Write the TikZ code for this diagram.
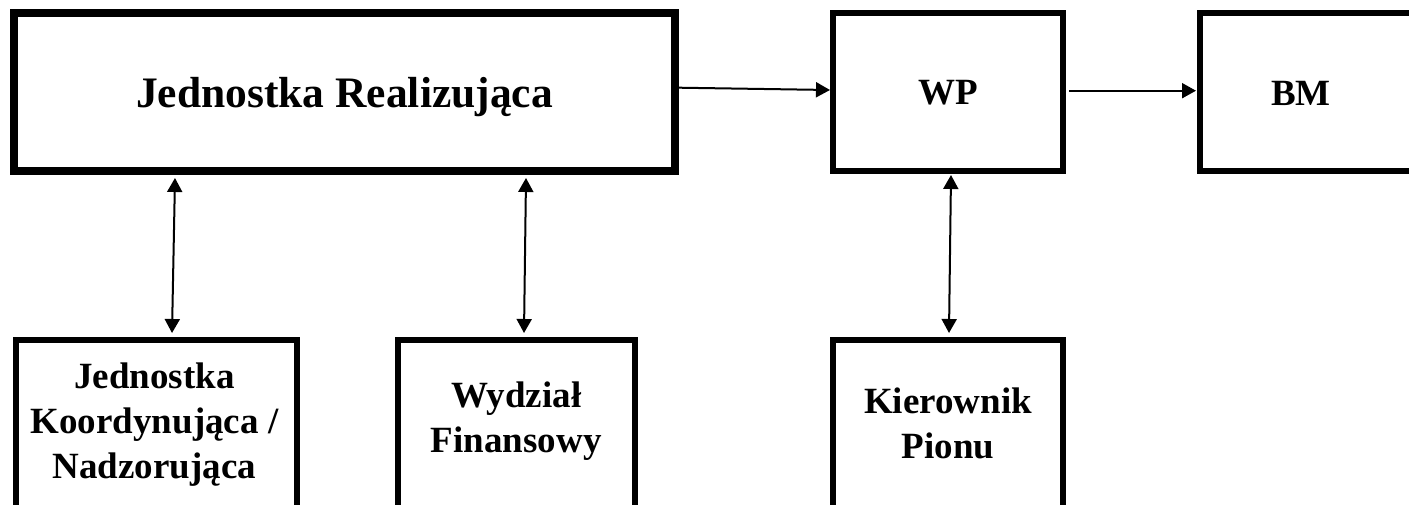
\documentclass[tikz,border=0pt]{standalone}
\usepackage{fontspec}
\setmainfont{Liberation Serif}
\usetikzlibrary{arrows.meta}
\begin{document}
\begin{tikzpicture}[x=1pt,y=-1pt,
  box/.style={draw, inner sep=0pt, outer sep=0pt, line width=6pt},
  bigbox/.style={box, line width=8pt},
  toptxt/.style={font=\bfseries\fontsize{37}{45}\selectfont, text depth=0pt},
  lbl/.style={font=\bfseries\fontsize{37}{45}\selectfont, align=center, inner sep=0pt},
  con/.style={line width=2pt, -{Triangle[length=14pt,width=15pt]}},
  bicon/.style={line width=2pt, {Triangle[length=14pt,width=15pt]}-{Triangle[length=14pt,width=15pt]}}]
\useasboundingbox (0,0) rectangle (1409,504);
\clip (0,0) rectangle (1409,504);
% top row
\node[bigbox, minimum width=661pt, minimum height=158pt,
      font=\bfseries\fontsize{43.5}{50}\selectfont, text depth=0pt] (JR) at (344.5,92) {Jednostka Realizująca};
\node[box, toptxt, minimum width=230pt, minimum height=158pt] (WP) at (948,92) {WP};
\node[box, minimum width=300pt, minimum height=158pt] (BM) at (1349.5,92) {};
\node[toptxt, inner sep=0pt] (BMt) at (1301,93) {BM};
% bottom row
\node[box, minimum width=281pt, minimum height=200pt] (JK) at (156,440) {};
\node[box, minimum width=237.5pt, minimum height=200pt] (WF) at (516.25,440) {};
\node[box, minimum width=230pt, minimum height=200pt] (KP) at (948,440) {};
\node[lbl] (JKt) at (154.5,424.5) {Jednostka\\Koordynująca /\\Nadzorująca};
\node[lbl] (WFt) at (516.25,421.3) {Wydział\\Finansowy};
\node[lbl] (KPt) at (948,423.3) {Kierownik\\Pionu};
% connectors
\draw[con] ([xshift=4pt,yshift=4.3pt]JR.east) -- ([xshift=-3pt,yshift=2pt]WP.west);
\draw[con] ([xshift=6pt,yshift=1.3pt]WP.east) -- ([xshift=-3.5pt,yshift=1.3pt]BM.west);
\draw[bicon] ([xshift=-169.5pt,yshift=-7pt]JR.south) -- ([xshift=16pt,yshift=7pt]JK.north);
\draw[bicon] ([xshift=181.5pt,yshift=-7pt]JR.south) -- ([xshift=7.75pt,yshift=7pt]WF.north);
\draw[bicon] ([xshift=3pt,yshift=-4pt]WP.south) -- ([xshift=1pt,yshift=7pt]KP.north);
\end{tikzpicture}
\end{document}
